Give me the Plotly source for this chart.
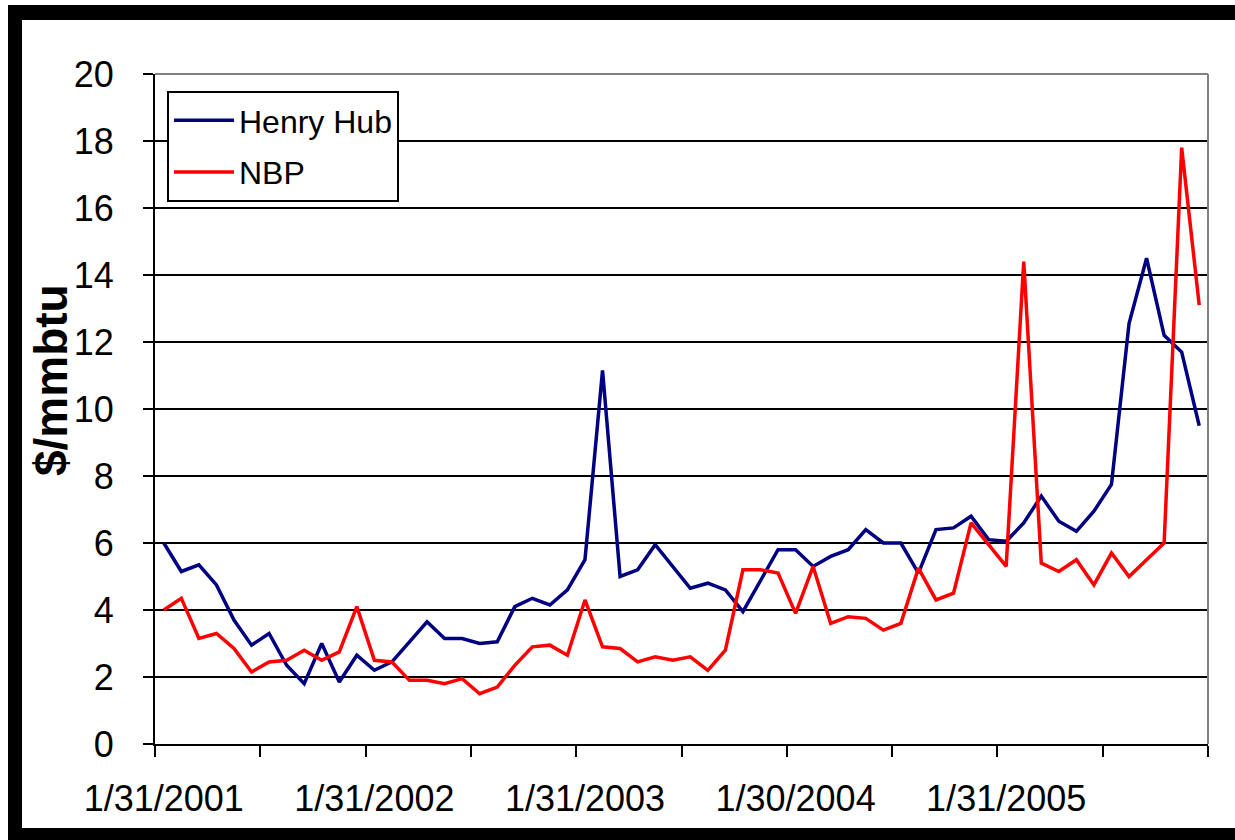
import pandas as pd
import plotly.graph_objects as go

# Monthly dates (last business day of each month), Jan 2001 - Dec 2005
dates = pd.date_range("2001-01-01", periods=60, freq="MS") + pd.offsets.BMonthEnd(0)
date_labels = [f"{d.month}/{d.day}/{d.year}" for d in dates]

henry_hub = [6.0, 5.15, 5.35, 4.75, 3.7, 2.95, 3.3, 2.35, 1.8, 3.0,
             1.85, 2.65, 2.2, 2.45, 3.05, 3.65, 3.15, 3.15, 3.0, 3.05,
             4.1, 4.35, 4.15, 4.6, 5.5, 11.15, 5.0, 5.2, 5.95, 5.3,
             4.65, 4.8, 4.6, 3.95, 4.9, 5.8, 5.8, 5.3, 5.6, 5.8,
             6.4, 6.0, 6.0, 5.1, 6.4, 6.45, 6.8, 6.1, 6.05, 6.6,
             7.4, 6.65, 6.35, 6.95, 7.75, 12.55, 14.5, 12.2, 11.7, 9.5]

nbp = [4.0, 4.35, 3.15, 3.3, 2.85, 2.15, 2.45, 2.5, 2.8, 2.5,
       2.75, 4.1, 2.5, 2.45, 1.9, 1.9, 1.8, 1.95, 1.5, 1.7,
       2.35, 2.9, 2.95, 2.65, 4.3, 2.9, 2.85, 2.45, 2.6, 2.5,
       2.6, 2.2, 2.8, 5.2, 5.2, 5.1, 3.9, 5.3, 3.6, 3.8,
       3.75, 3.4, 3.6, 5.25, 4.3, 4.5, 6.6, 5.95, 5.3, 14.4,
       5.4, 5.15, 5.5, 4.75, 5.7, 5.0, 5.5, 6.0, 17.8, 13.1]

label_every = 12
tick_every = 6

x = list(range(len(date_labels)))
label_pos = x[::label_every]
label_text = date_labels[::label_every]

FONT = "Liberation Sans, Arial, sans-serif"

fig = go.Figure()
fig.add_trace(go.Scatter(x=x, y=henry_hub, mode="lines", name="Henry Hub",
                         legendgroup="hh",
                         line=dict(color="#000080", width=3.5)))
fig.add_trace(go.Scatter(x=x, y=nbp, mode="lines", name="NBP",
                         legendgroup="nbp",
                         line=dict(color="#FF0000", width=3.5)))

W, H = 1235, 840
L, R, T, B = 155, 1208, 74, 744
pw, ph = R - L, B - T

def px(v):
    return (v - L) / pw

def py(v):
    return (B - v) / ph

fig.update_layout(
    width=W, height=H,
    margin=dict(l=L, r=W - R, t=T, b=H - B, pad=0),
    paper_bgcolor="white", plot_bgcolor="white",
    font=dict(family=FONT, color="black"),
    showlegend=True,
    legend=dict(x=px(167), y=py(91), xanchor="left", yanchor="top",
                bgcolor="white", bordercolor="black", borderwidth=2,
                font=dict(size=32, family=FONT, color="black"),
                itemwidth=60, tracegroupgap=7),
    xaxis=dict(range=[-0.5, len(x) - 0.5], tickmode="array",
               tickvals=label_pos, ticktext=label_text, ticks="",
               tickfont=dict(size=36, family=FONT, color="black"),
               ticklabelstandoff=22,
               showgrid=False, zeroline=False,
               showline=True, linecolor="black", linewidth=2,
               minor=dict(tickmode="linear", tick0=-0.5, dtick=tick_every,
                          ticks="outside", ticklen=11, tickwidth=2,
                          tickcolor="black", showgrid=False)),
    yaxis=dict(range=[0, 20], tickmode="linear", tick0=0, dtick=2,
               tickfont=dict(size=36, family=FONT, color="black"),
               ticks="outside", ticklen=10, tickwidth=2, tickcolor="black",
               ticklabelstandoff=22,
               showgrid=True, gridcolor="black", gridwidth=2,
               zeroline=False, showline=True, linecolor="black", linewidth=2),
)

fig.add_annotation(text="<b>$/mmbtu</b>", textangle=-90, xref="paper", yref="paper",
                   x=px(51), y=py(380), xanchor="center", yanchor="middle",
                   showarrow=False, font=dict(size=46, family=FONT, color="black"))

# plot area top/right border (grey)
fig.add_shape(type="line", xref="paper", yref="paper", x0=0, x1=1, y0=1, y1=1,
              line=dict(color="#808080", width=2), layer="above")
fig.add_shape(type="line", xref="paper", yref="paper", x0=1, x1=1, y0=0, y1=1,
              line=dict(color="#808080", width=2), layer="above")

# black picture frame
frame = dict(type="rect", xref="paper", yref="paper", fillcolor="black",
             line=dict(width=0), layer="above")
fig.add_shape(**frame, x0=px(8), x1=px(22), y0=py(H), y1=py(5))
fig.add_shape(**frame, x0=px(8), x1=px(W), y0=py(20), y1=py(5))
fig.add_shape(**frame, x0=px(8), x1=px(W), y0=py(H), y1=py(828))

fig.write_html("out.html")
